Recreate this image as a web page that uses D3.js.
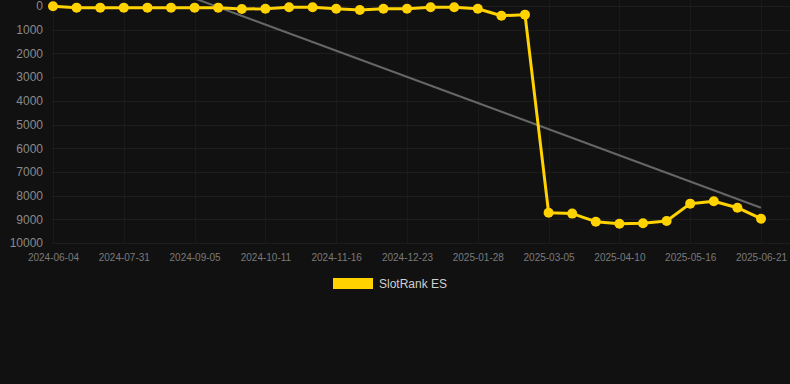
<!DOCTYPE html>
<html>
<head>
<meta charset="utf-8">
<script src="https://cdn.jsdelivr.net/npm/d3@7"></script>
<style>
  body { margin: 0; background: #111111; }
  svg { display: block; font-family: "Liberation Sans", Arial, sans-serif; }
</style>
</head>
<body>
<script>
var dates = [
  "2024-06-04", "2024-07-07", "2024-07-19", "2024-07-31", "2024-08-12", "2024-08-24",
  "2024-09-05", "2024-09-17", "2024-09-29", "2024-10-11", "2024-10-23", "2024-11-04",
  "2024-11-16", "2024-11-28", "2024-12-11", "2024-12-23", "2025-01-04", "2025-01-16",
  "2025-01-28", "2025-02-09", "2025-02-21", "2025-03-05", "2025-03-17", "2025-03-29",
  "2025-04-10", "2025-04-22", "2025-05-04", "2025-05-16", "2025-05-28", "2025-06-09",
  "2025-06-21"
];
var ranks = [
  10, 70, 70, 70, 70, 70, 70, 70, 130, 115, 55, 55, 115, 170, 115, 115,
  55, 55, 115, 410, 365, 8720, 8760, 9100, 9185, 9170, 9070, 8340, 8240, 8510, 8975
];
var trendValues = [-2530, 8510];
var yTicks = [0, 1000, 2000, 3000, 4000, 5000, 6000, 7000, 8000, 9000, 10000];
var seriesName = "SlotRank ES";

var width = 790, height = 384;
var plotLeft = 53, plotRight = 761, plotTop = 6, plotBottom = 243;
var gold = "#ffd200";

var svg = d3.select("body").append("svg")
  .attr("width", width)
  .attr("height", height);

var x = d3.scalePoint().domain(dates).range([plotLeft, plotRight]);
var y = d3.scaleLinear().domain([0, 10000]).range([plotTop, plotBottom]);

var labelDates = dates.filter(function(d, i) { return i % 3 === 0; });

// grid
svg.append("g")
  .selectAll("line")
  .data(yTicks)
  .enter()
  .append("line")
  .attr("x1", plotLeft)
  .attr("x2", width)
  .attr("y1", function(d) { return Math.round(y(d)) + 0.5; })
  .attr("y2", function(d) { return Math.round(y(d)) + 0.5; })
  .attr("stroke", "rgba(255,255,255,0.05)");

svg.append("g")
  .selectAll("line")
  .data(labelDates)
  .enter()
  .append("line")
  .attr("x1", function(d) { return Math.round(x(d)) + 0.5; })
  .attr("x2", function(d) { return Math.round(x(d)) + 0.5; })
  .attr("y1", 0)
  .attr("y2", plotBottom)
  .attr("stroke", "rgba(255,255,255,0.035)");

// y axis
var yAxis = d3.axisLeft(y).tickValues(yTicks).tickFormat(d3.format("d"))
  .tickSize(0).tickPadding(10);
var gy = svg.append("g")
  .attr("transform", "translate(" + plotLeft + ",0)")
  .call(yAxis);
gy.select(".domain").remove();
gy.selectAll("text")
  .attr("fill", "#8a8a8a")
  .style("font-size", "12px")
  .style("font-family", "'Liberation Sans', Arial, sans-serif");

// x axis
var xAxis = d3.axisBottom(x).tickValues(labelDates).tickSize(0).tickPadding(11);
var gx = svg.append("g")
  .attr("transform", "translate(0," + plotBottom + ")")
  .call(xAxis);
gx.select(".domain").remove();
gx.selectAll("text")
  .attr("fill", "#7a7a7a")
  .style("font-size", "10px")
  .style("font-family", "'Liberation Sans', Arial, sans-serif");

// trend line
svg.append("line")
  .attr("x1", x(dates[0]))
  .attr("y1", y(trendValues[0]))
  .attr("x2", x(dates[dates.length - 1]))
  .attr("y2", y(trendValues[1]))
  .attr("stroke", "#666666")
  .attr("stroke-width", 2);

// series
var line = d3.line()
  .x(function(d, i) { return x(dates[i]); })
  .y(function(d) { return y(d); });

svg.append("path")
  .datum(ranks)
  .attr("d", line)
  .attr("fill", "none")
  .attr("stroke", gold)
  .attr("stroke-width", 3)
  .attr("stroke-linejoin", "round");

svg.append("g")
  .selectAll("circle")
  .data(ranks)
  .enter()
  .append("circle")
  .attr("cx", function(d, i) { return x(dates[i]); })
  .attr("cy", function(d) { return y(d); })
  .attr("r", 5)
  .attr("fill", gold);

// legend
var legend = svg.append("g").attr("transform", "translate(333,278)");
legend.append("rect")
  .attr("width", 40)
  .attr("height", 11)
  .attr("fill", gold);
legend.append("text")
  .attr("x", 46)
  .attr("y", 6)
  .attr("dy", "0.35em")
  .attr("fill", "#d0d0d0")
  .style("font-size", "12px")
  .text(seriesName);
</script>
</body>
</html>
